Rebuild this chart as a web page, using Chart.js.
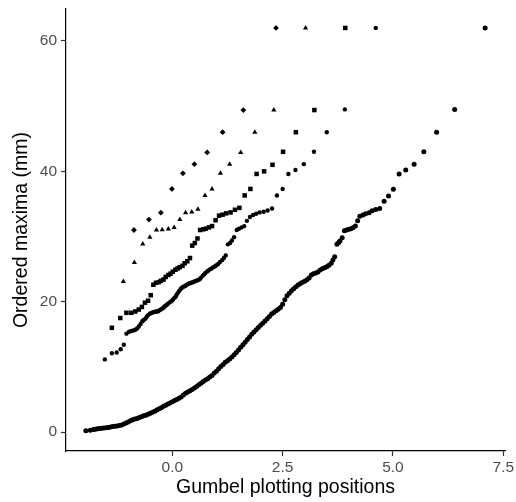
<!DOCTYPE html>
<html>
<head>
<meta charset="utf-8">
<script src="https://cdn.jsdelivr.net/npm/chart.js@4/dist/chart.umd.min.js"></script>
<style>
  body { margin: 0; background: #fff; }
  .wrap { width: 516px; height: 502px; }
</style>
</head>
<body>
<div class="wrap"><canvas class="js-gumbel"></canvas></div>
<script>
// ordered maxima against Gumbel plotting positions, one series per sample size

// 10 block maxima (diamonds)
const diamondX = [-0.87, -0.53, -0.26, -0.01, 0.24, 0.50, 0.79, 1.14, 1.61, 2.35];
const diamondY = [31.0, 32.6, 33.65, 37.3, 39.7, 41.1, 42.9, 46.0, 49.4, 62.0];

// 20 block maxima (triangles)
const triangleX = [-1.11, -0.86, -0.67, -0.51, -0.36, -0.23, -0.09, 0.04, 0.17, 0.30,
  0.44, 0.58, 0.74, 0.90, 1.09, 1.30, 1.55, 1.87, 2.30, 3.02];
const triangleY = [23.1, 26.0, 28.85, 29.9, 31.0, 31.05, 31.15, 31.4, 32.6, 33.65,
  33.76, 34.17, 36.3, 37.3, 39.7, 41.1, 42.9, 46.0, 49.4, 62.0];

// 50 block maxima (squares)
const squareX = [-1.37, -1.18, -1.04, -0.93, -0.84, -0.76, -0.69, -0.62, -0.55, -0.49,
  -0.43, -0.37, -0.31, -0.26, -0.20, -0.15, -0.09, -0.04, 0.01, 0.07,
  0.12, 0.17, 0.23, 0.28, 0.34, 0.40, 0.45, 0.51, 0.57, 0.63,
  0.70, 0.76, 0.83, 0.90, 0.98, 1.06, 1.14, 1.22, 1.32, 1.42,
  1.52, 1.64, 1.77, 1.91, 2.08, 2.27, 2.51, 2.80, 3.22, 3.92];
const squareY = [16.0, 17.5, 18.3, 18.3, 18.5, 18.8, 19.2, 19.85, 20.15, 21.0,
  22.6, 22.9, 23.0, 23.2, 23.4, 23.8, 24.1, 24.3, 24.6, 24.9,
  25.1, 25.3, 25.5, 25.9, 26.2, 26.7, 28.6, 29.0, 29.7, 31.0,
  31.1, 31.2, 31.4, 31.6, 32.5, 33.2, 33.35, 33.55, 33.7, 34.1,
  34.4, 36.3, 37.3, 39.6, 40.0, 41.0, 43.0, 46.0, 49.4, 62.0];

// 100 block maxima (circles)
const circleX = [-1.53, -1.37, -1.26, -1.17, -1.10, -1.04, -0.98, -0.93, -0.88, -0.84,
  -0.80, -0.76, -0.72, -0.68, -0.65, -0.61, -0.58, -0.55, -0.51, -0.48,
  -0.45, -0.42, -0.39, -0.36, -0.33, -0.31, -0.28, -0.25, -0.22, -0.19,
  -0.17, -0.14, -0.11, -0.09, -0.06, -0.03, 0.00, 0.02, 0.05, 0.08,
  0.10, 0.13, 0.16, 0.19, 0.21, 0.24, 0.27, 0.30, 0.32, 0.35,
  0.38, 0.41, 0.44, 0.47, 0.50, 0.53, 0.56, 0.59, 0.62, 0.65,
  0.69, 0.72, 0.75, 0.79, 0.82, 0.86, 0.89, 0.93, 0.97, 1.00,
  1.04, 1.08, 1.13, 1.17, 1.21, 1.26, 1.31, 1.35, 1.40, 1.46,
  1.51, 1.57, 1.63, 1.69, 1.76, 1.83, 1.90, 1.98, 2.07, 2.16,
  2.26, 2.37, 2.50, 2.63, 2.79, 2.98, 3.21, 3.50, 3.91, 4.61];
const circleY = [11.15, 12.1, 12.2, 12.7, 13.4, 15.1, 15.4, 15.5, 15.6, 15.7,
  15.9, 16.2, 16.6, 17.0, 17.2, 17.4, 17.7, 17.95, 18.15, 18.25,
  18.35, 18.4, 18.45, 18.5, 18.5, 18.6, 18.75, 18.85, 19.0, 19.15,
  19.3, 19.45, 19.6, 19.75, 19.9, 20.05, 20.2, 20.4, 20.6, 20.8,
  21.1, 21.4, 21.7, 21.95, 22.1, 22.25, 22.35, 22.45, 22.55, 22.7,
  22.8, 22.85, 22.95, 23.0, 23.1, 23.2, 23.25, 23.35, 23.45, 23.7,
  24.0, 24.2, 24.4, 24.65, 24.8, 25.0, 25.1, 25.3, 25.45, 25.6,
  25.8, 26.1, 26.4, 26.7, 27.1, 28.8, 29.0, 29.4, 29.9, 31.0,
  31.2, 31.4, 31.6, 32.4, 33.0, 33.3, 33.5, 33.7, 33.8, 34.0,
  34.3, 36.3, 37.3, 39.6, 40.2, 41.1, 43.0, 46.0, 49.5, 62.0];

// all daily values (dense circles)
const allX = [-1.96, -1.86, -1.79, -1.74, -1.70, -1.65, -1.60, -1.55, -1.50, -1.45,
  -1.40, -1.35, -1.30, -1.25, -1.20, -1.15, -1.10, -1.05, -1.00, -0.95,
  -0.90, -0.85, -0.80, -0.75, -0.70, -0.65, -0.60, -0.55, -0.50, -0.45,
  -0.40, -0.35, -0.30, -0.25, -0.20, -0.15, -0.10, -0.05, 0.00, 0.05,
  0.10, 0.15, 0.20, 0.25, 0.30, 0.35, 0.40, 0.45, 0.50, 0.55,
  0.60, 0.65, 0.70, 0.75, 0.80, 0.85, 0.90, 0.95, 1.00, 1.05,
  1.10, 1.15, 1.20, 1.25, 1.30, 1.35, 1.40, 1.45, 1.50, 1.55,
  1.60, 1.65, 1.70, 1.75, 1.80, 1.85, 1.90, 1.95, 2.00, 2.05,
  2.10, 2.15, 2.20, 2.25, 2.30, 2.35, 2.40, 2.45, 2.50, 2.55,
  2.60, 2.65, 2.70, 2.75, 2.80, 2.85, 2.90, 2.95, 3.00, 3.05,
  3.10, 3.15, 3.20, 3.25, 3.30, 3.35, 3.40, 3.45, 3.50, 3.55,
  3.60, 3.64, 3.68, 3.73, 3.77, 3.80, 3.85, 3.90, 3.95, 4.00,
  4.05, 4.10, 4.15, 4.20, 4.25, 4.32, 4.38, 4.46, 4.53, 4.61,
  4.70, 4.80, 4.90, 5.01, 5.14, 5.29, 5.48, 5.70, 5.99, 6.40, 7.09];
const allY = [0.2, 0.3, 0.4, 0.45, 0.5, 0.55, 0.6, 0.63, 0.66, 0.72,
  0.78, 0.84, 0.9, 0.95, 1.0, 1.1, 1.25, 1.4, 1.55, 1.75,
  1.9, 2.0, 2.1, 2.25, 2.35, 2.5, 2.6, 2.75, 2.9, 3.05,
  3.2, 3.4, 3.6, 3.75, 3.95, 4.1, 4.3, 4.45, 4.65, 4.85,
  5.0, 5.2, 5.4, 5.7, 5.95, 6.15, 6.35, 6.55, 6.75, 7.0,
  7.25, 7.5, 7.75, 8.0, 8.2, 8.45, 8.7, 9.05, 9.35, 9.7,
  10.05, 10.35, 10.7, 10.95, 11.2, 11.5, 11.85, 12.2, 12.6, 13.0,
  13.4, 13.8, 14.2, 14.6, 15.0, 15.35, 15.7, 16.05, 16.4, 16.7,
  17.05, 17.4, 17.75, 18.1, 18.35, 18.6, 18.85, 19.1, 19.6, 20.3,
  20.9, 21.3, 21.7, 22.0, 22.3, 22.55, 22.8, 23.0, 23.15, 23.35,
  23.65, 24.1, 24.3, 24.4, 24.55, 24.85, 25.05, 25.2, 25.35, 25.6,
  25.9, 26.4, 26.9, 28.8, 29.1, 29.3, 29.8, 30.9, 31.0, 31.1,
  31.2, 31.4, 31.6, 32.4, 33.1, 33.3, 33.5, 33.65, 33.95, 34.15,
  34.3, 35.4, 36.2, 37.25, 39.6, 40.2, 41.1, 43.0, 46.0, 49.5, 62.0];

const xTicks = [0, 2.5, 5, 7.5];
const yTicks = [0, 20, 40, 60];

const pts = (xs, ys) => xs.map((x, i) => ({ x: x, y: ys[i] }));

const gumbel = function () {
  const el = document.querySelector(".js-gumbel");
  const tickFont = { family: "'Liberation Sans', Arial, sans-serif", size: 15.5 };
  const titleFont = { family: "'Liberation Sans', Arial, sans-serif", size: 19.5 };

  new Chart(el, {
    type: "scatter",
    data: {
      datasets: [
        { label: "all", data: pts(allX, allY), pointStyle: "circle", pointRadius: 2.5 },
        { label: "100", data: pts(circleX, circleY), pointStyle: "circle", pointRadius: 2.2 },
        { label: "50", data: pts(squareX, squareY), pointStyle: "rect", pointRadius: 3.2 },
        { label: "20", data: pts(triangleX, triangleY), pointStyle: "triangle", pointRadius: 3.0 },
        { label: "10", data: pts(diamondX, diamondY), pointStyle: "rectRot", pointRadius: 2.9 },
      ].map((d) => Object.assign(d, {
        backgroundColor: "#000",
        borderWidth: 0,
        pointHoverRadius: d.pointRadius,
      })),
    },
    options: {
      responsive: true,
      maintainAspectRatio: false,
      animation: false,
      layout: { padding: { top: 9, right: 11, left: 0, bottom: 0 } },
      scales: {
        x: {
          type: "linear",
          min: -2.41,
          max: 7.54,
          afterFit: (scale) => {
            scale.height = 51;
            scale.paddingLeft = 0;
            scale.paddingRight = 0;
          },
          afterBuildTicks: (axis) => { axis.ticks = xTicks.map((v) => ({ value: v })); },
          border: { display: true, color: "#000", width: 1.2 },
          grid: { drawOnChartArea: false, drawTicks: true, tickLength: 5, color: "#333", tickWidth: 1.2 },
          ticks: {
            color: "#4d4d4d",
            font: tickFont,
            padding: 2,
            maxRotation: 0,
            callback: (v) => Number(v).toFixed(1),
          },
          title: {
            display: true,
            text: "Gumbel plotting positions",
            color: "#000",
            font: titleFont,
            padding: { top: 0, bottom: 3 },
          },
        },
        y: {
          type: "linear",
          min: -2.9,
          max: 64.9,
          afterFit: (scale) => {
            scale.width = 66;
            scale.paddingTop = 0;
            scale.paddingBottom = 0;
          },
          afterBuildTicks: (axis) => { axis.ticks = yTicks.map((v) => ({ value: v })); },
          border: { display: true, color: "#000", width: 1.2 },
          grid: { drawOnChartArea: false, drawTicks: true, tickLength: 5, color: "#333", tickWidth: 1.2 },
          ticks: {
            color: "#4d4d4d",
            font: tickFont,
            padding: 4,
            callback: (v) => String(v),
          },
          title: {
            display: true,
            text: "Ordered maxima (mm)",
            color: "#000",
            font: titleFont,
            padding: { top: 10, bottom: 0 },
          },
        },
      },
      plugins: {
        legend: { display: false },
        tooltip: { enabled: false },
      },
    },
  });
};

const init = function () {
  if (document.querySelector(".js-gumbel")) {
    gumbel();
  }
};

document.addEventListener("DOMContentLoaded", init);
</script>
</body>
</html>
